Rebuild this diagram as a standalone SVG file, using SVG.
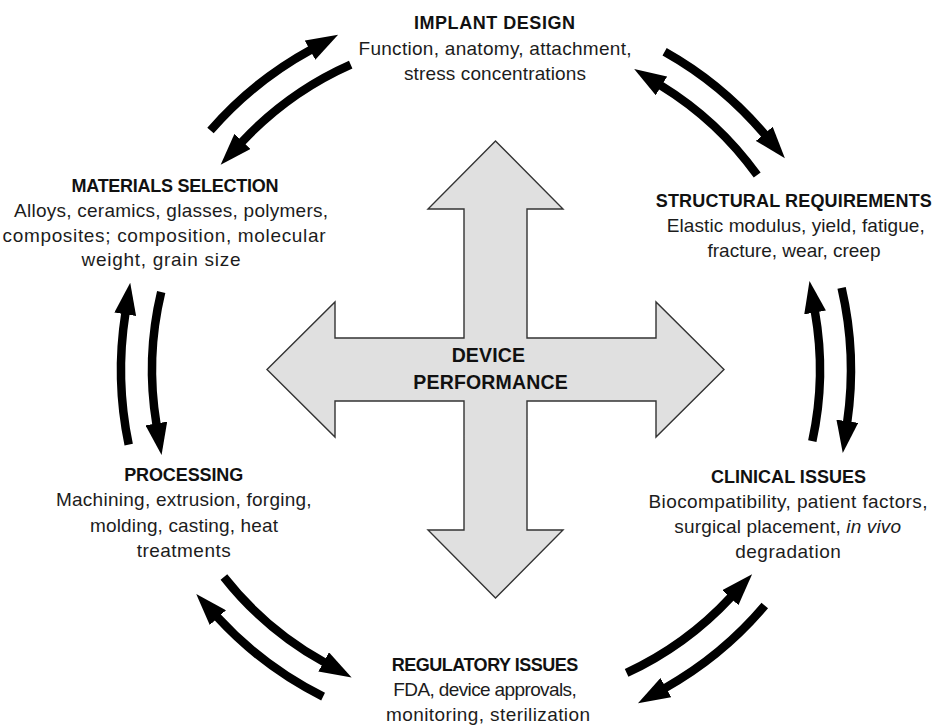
<svg xmlns="http://www.w3.org/2000/svg" width="936" height="726" viewBox="0 0 936 726">
  <defs>
    <marker id="head" markerUnits="userSpaceOnUse" markerWidth="32" markerHeight="22" viewBox="0 0 32 22" refX="1" refY="11" orient="auto">
      <path d="M0,0 L32,11 L0,22 z" fill="#000"/>
    </marker>
    <style>
      .title { font-family: "Liberation Sans", Arial, sans-serif; font-weight: bold; font-size: 18px; fill: #111; text-anchor: middle; }
      .body { font-family: "Liberation Sans", Arial, sans-serif; font-size: 19px; fill: #1c1c1c; text-anchor: middle; }
      .center { font-family: "Liberation Sans", Arial, sans-serif; font-weight: bold; font-size: 19.5px; fill: #111; text-anchor: middle; }
      .flow { fill: none; stroke: #000; stroke-width: 8.5; marker-end: url(#head); }
      .cross { fill: #e0e0e0; stroke: #333; stroke-width: 1.4; stroke-linejoin: miter; }
    </style>
  </defs>
  <rect width="936" height="726" fill="#fff"/>

  <!-- central four-way arrow -->
  <g id="node-device-performance">
    <polygon class="cross" points="495.5,141 563,209 527,209 527,338 656,338 656,302 724,369.5 656,437 656,401 527,401 527,530 563,530 495.5,598 428,530 464,530 464,401 335,401 335,437 267,369.5 335,302 335,338 464,338 464,209 428,209"/>
    <text class="center" x="488.3" y="362.3" textLength="73.3">DEVICE</text>
    <text class="center" x="490.5" y="389" textLength="154.3">PERFORMANCE</text>
  </g>

  <g id="node-implant-design">
    <text class="title" x="494.5" y="29.3" textLength="161">IMPLANT DESIGN</text>
    <text class="body" x="495" y="55" textLength="273">Function, anatomy, attachment,</text>
    <text class="body" x="495" y="80" textLength="182">stress concentrations</text>
  </g>

  <g id="node-structural-requirements">
    <text class="title" x="793.8" y="206.7" textLength="276">STRUCTURAL REQUIREMENTS</text>
    <text class="body" x="795.8" y="231.7" textLength="258">Elastic modulus, yield, fatigue,</text>
    <text class="body" x="794" y="256.7" textLength="173">fracture, wear, creep</text>
  </g>

  <g id="node-clinical-issues">
    <text class="title" x="788.5" y="483.3" textLength="155">CLINICAL ISSUES</text>
    <text class="body" x="788" y="508.3" textLength="279">Biocompatibility, patient factors,</text>
    <text class="body" x="787.7" y="533.3" textLength="226.7">surgical placement, <tspan font-style="italic">in vivo</tspan></text>
    <text class="body" x="788" y="558.3" textLength="105.7">degradation</text>
  </g>

  <g id="node-regulatory-issues">
    <text class="title" x="485" y="670.7" textLength="186.7">REGULATORY ISSUES</text>
    <text class="body" x="485" y="696" textLength="183.4">FDA, device approvals,</text>
    <text class="body" x="488" y="720.7" textLength="204">monitoring, sterilization</text>
  </g>

  <g id="node-processing">
    <text class="title" x="183.7" y="481" textLength="119">PROCESSING</text>
    <text class="body" x="183.8" y="506" textLength="255.7">Machining, extrusion, forging,</text>
    <text class="body" x="184" y="531.7" textLength="188">molding, casting, heat</text>
    <text class="body" x="183.7" y="557.3" textLength="94">treatments</text>
  </g>

  <g id="node-materials-selection">
    <text class="title" x="175" y="191.7" textLength="207">MATERIALS SELECTION</text>
    <text class="body" x="171" y="216.7" textLength="314">Alloys, ceramics, glasses, polymers,</text>
    <text class="body" x="164" y="241.7" textLength="323">composites; composition, molecular</text>
    <text class="body" x="161" y="266" textLength="159">weight, grain size</text>
  </g>

  <!-- curved flow arrows: outer ring runs clockwise, inner ring counter-clockwise -->
  <g id="connectors">
    <path class="flow" d="M210.5,130.5 A365,365 0 0 1 310.9,49.7"/>
    <path class="flow" d="M664.6,51.7 A365,365 0 0 1 764.9,134.6"/>
    <path class="flow" d="M841.6,287.9 A365,365 0 0 1 847.2,422.2"/>
    <path class="flow" d="M764.8,605.6 A365,365 0 0 1 665.0,688.1"/>
    <path class="flow" d="M323.1,696.6 A365,365 0 0 1 217.2,616.9"/>
    <path class="flow" d="M128.7,444.6 A365,365 0 0 1 125.4,313.3"/>

    <path class="flow" d="M350.7,64.6 A334,334 0 0 0 241.8,142.1"/>
    <path class="flow" d="M757.2,175.1 A334,334 0 0 0 660.6,85.3"/>
    <path class="flow" d="M812.3,441.1 A334,334 0 0 0 814.9,311.5"/>
    <path class="flow" d="M626.6,672.9 A334,334 0 0 0 731.0,597.0"/>
    <path class="flow" d="M223.9,577.0 A334,334 0 0 0 324.5,662.4"/>
    <path class="flow" d="M161.2,292.0 A334,334 0 0 0 156.5,424.4"/>
  </g>
</svg>
